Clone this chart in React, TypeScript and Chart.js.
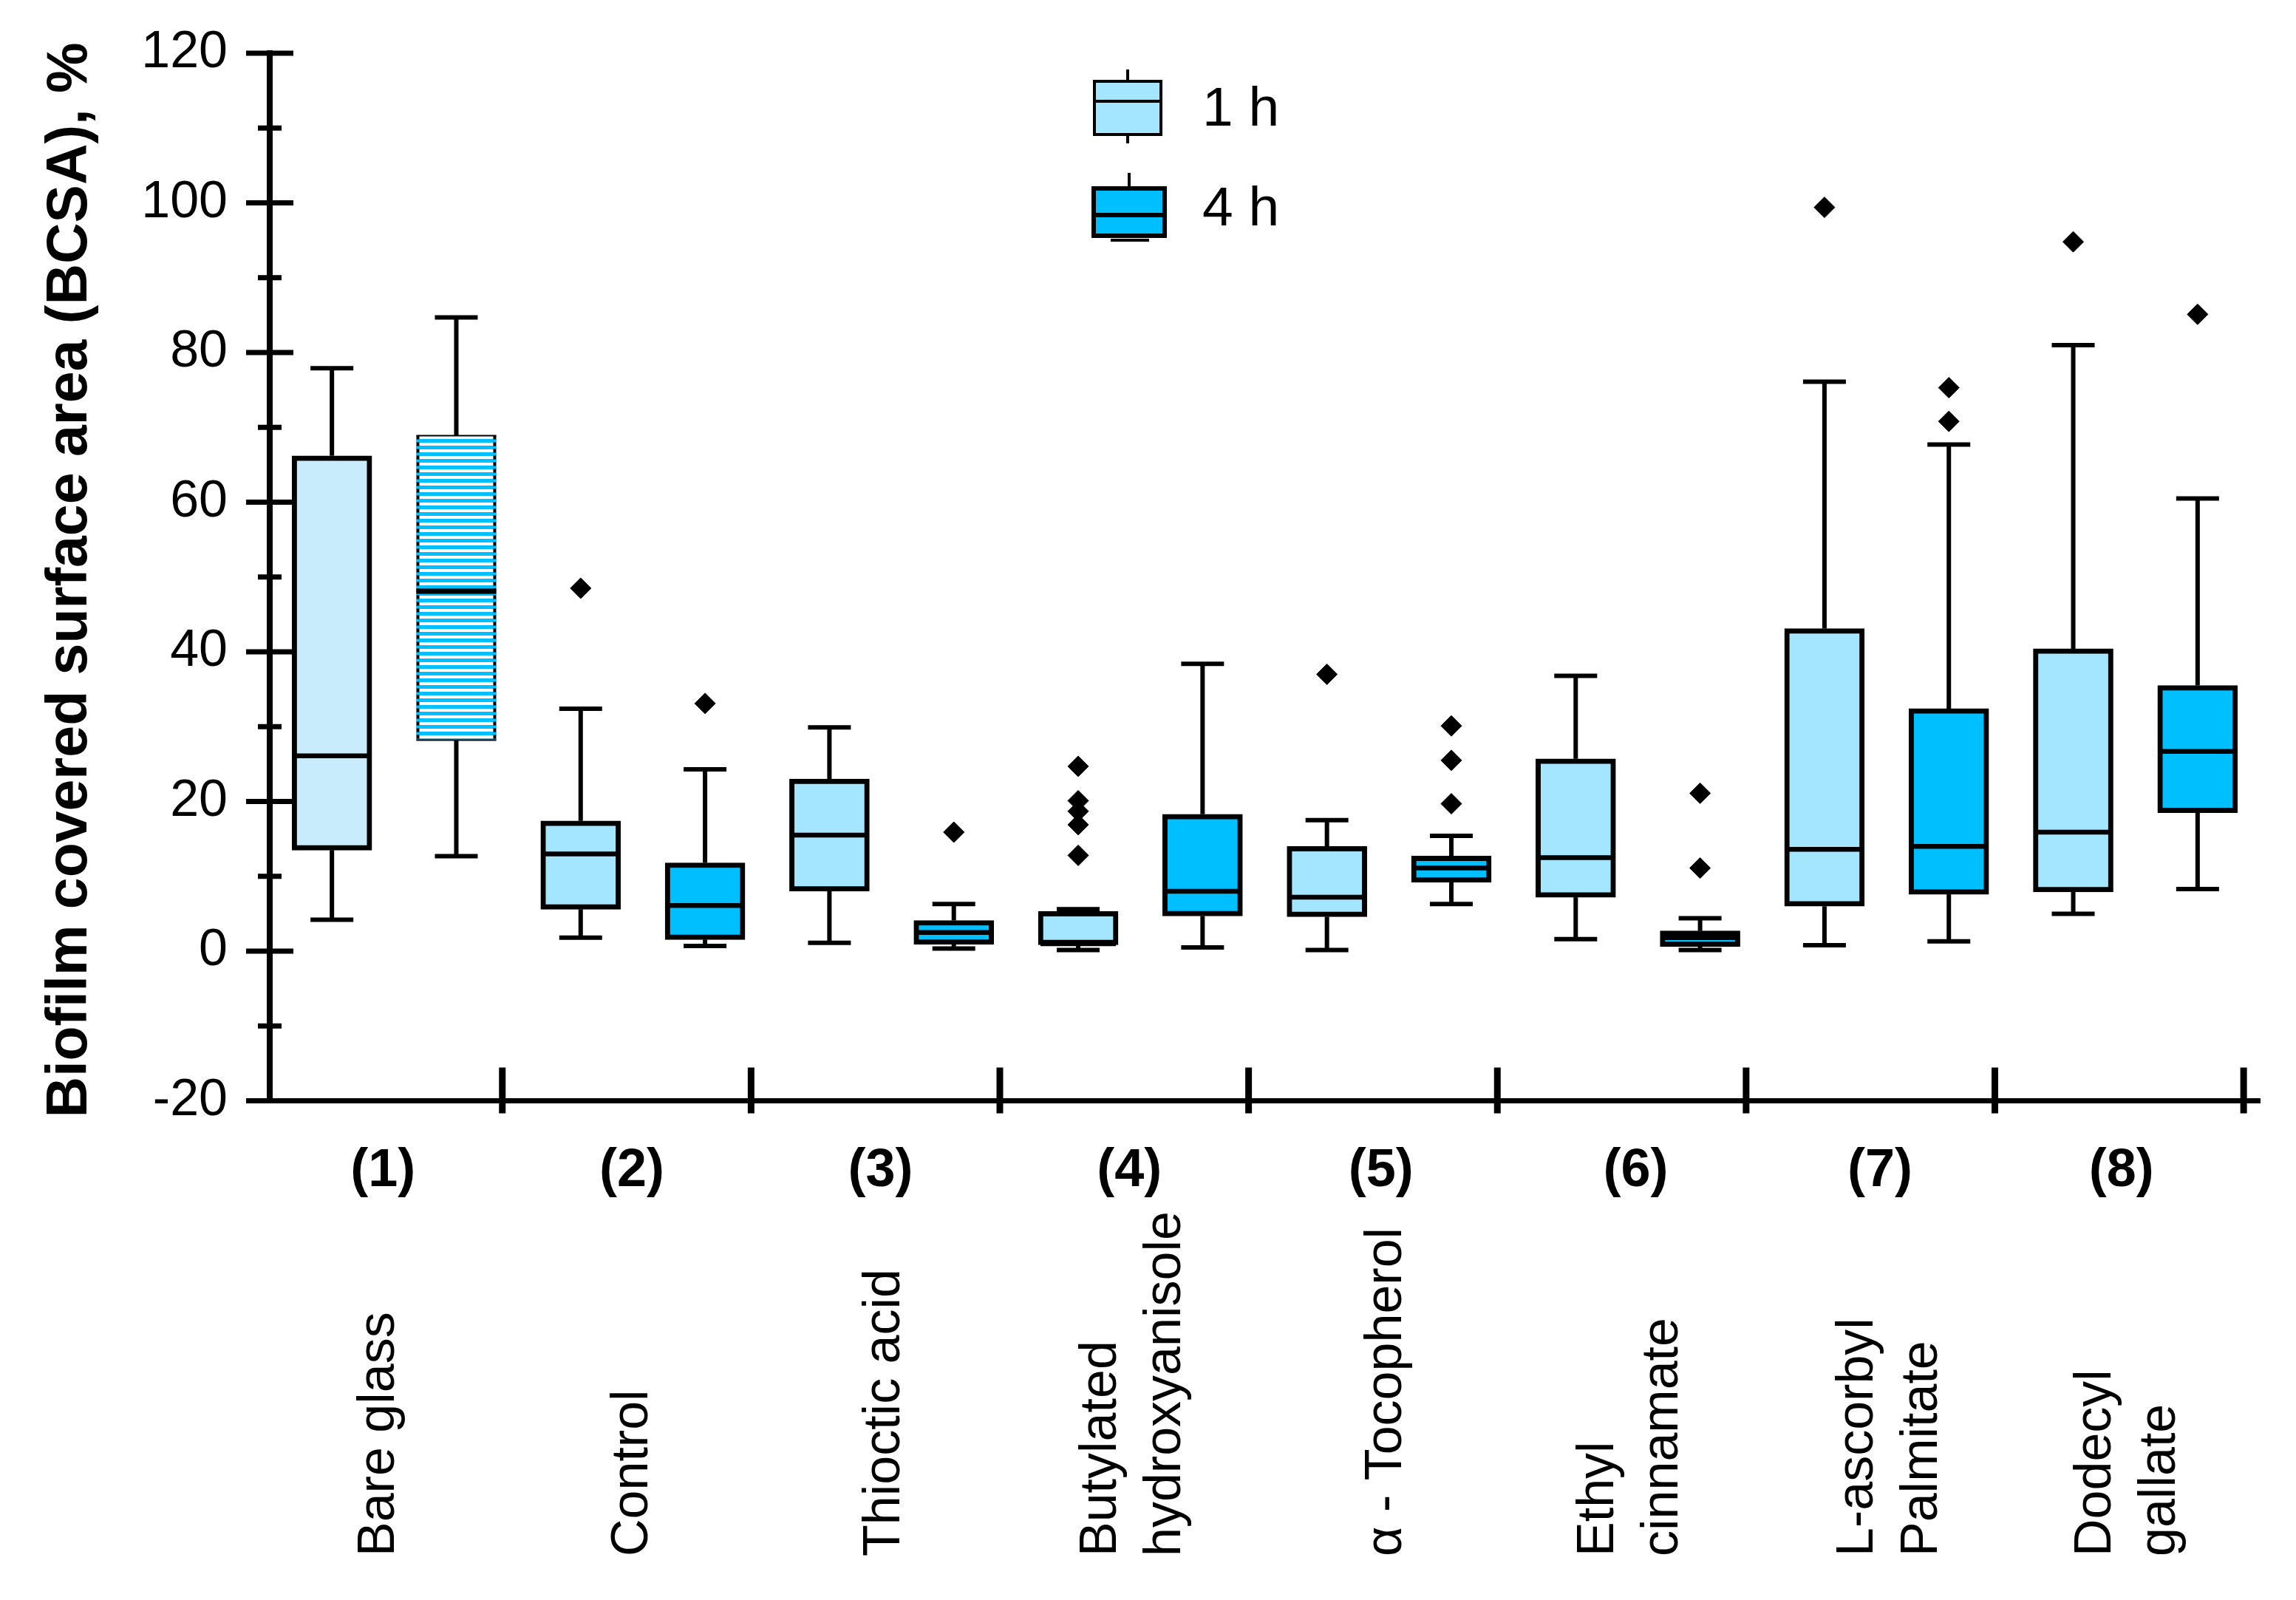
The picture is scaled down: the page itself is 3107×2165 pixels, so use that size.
import React, { useEffect, useRef } from 'react';
import { Chart, registerables } from 'chart.js';

Chart.register(...registerables);

// ---------------- data ----------------
const GROUP_LABELS = ['(1)', '(2)', '(3)', '(4)', '(5)', '(6)', '(7)', '(8)'];
const GROUP_NAMES = [
  ['Bare glass'],
  ['Control'],
  ['Thioctic acid'],
  ['Butylated', 'hydroxyanisole'],
  ['\u03b1 - Tocopherol'],
  ['Ethyl', 'cinnamate'],
  ['L-ascorbyl', 'Palmitate'],
  ['Dodecyl', 'gallate'],
];
const SERIES = ['1 h', '4 h'];

// five-number summaries: [min whisker, Q1, median, Q3, max whisker]
const STATS_1H = [
  [4.2, 13.5, 26.1, 66.2, 77.9],
  [1.8, 5.6, 13.0, 17.4, 32.4],
  [1.1, 8.0, 15.5, 23.0, 29.9],
  [0.15, 0.85, 1.0, 5.3, 5.6],
  [0.15, 4.6, 7.2, 14.0, 17.5],
  [1.6, 7.2, 12.5, 25.7, 36.8],
  [0.8, 6.0, 13.6, 43.1, 76.1],
  [5.0, 7.9, 15.9, 40.4, 81.0],
];
const STATS_4H = [
  [12.7, 28.2, 48.1, 68.9, 84.7],
  [0.7, 1.55, 6.1, 11.8, 24.3],
  [0.35, 0.9, 2.5, 4.1, 6.3],
  [0.5, 4.7, 8.0, 18.3, 38.4],
  [6.3, 9.2, 11.1, 12.7, 15.4],
  [0.15, 0.6, 1.8, 2.7, 4.4],
  [1.3, 7.6, 14.0, 32.4, 67.7],
  [8.3, 18.5, 26.7, 35.5, 60.5],
];
const OUTLIERS_1H = [[], [48.5], [], [24.7, 20.1, 18.7, 16.9, 12.8], [37.0], [], [99.4], [94.8]];
const OUTLIERS_4H = [[], [33.1], [15.9], [], [30.1, 25.5, 19.7], [21.1, 11.1], [75.3, 70.8], [85.1]];

const Y_MIN = -20;
const Y_MAX = 120;
const Y_MAJOR_STEP = 20;
const Y_MINOR_STEP = 10;
const Y_TITLE = 'Biofilm covered surface area (BCSA), %';

// ---------------- styles ----------------
const W = 3107;
const H = 2165;
const FONT = "'Liberation Sans', Arial, Helvetica, sans-serif";
const PALE = 'rgb(200,236,252)';
const LIGHT = 'rgb(164,229,255)';
const DEEP = 'rgb(0,191,255)';
const BOX_W = 108;
const CAP_W = 58;
const HATCH_INDEX = 0; // 4 h box of group (1) is drawn hatched
const SEP_OFFSET = 1.37; // group separator tick position relative to group start
const LABEL_SHIFT = -15;
const NAME_SHIFT = [-10, -4, 0, 0, 6, 0, 14, 0];
const NUM_SHIFT = [0, 0, 0, 0, 4, 12, 6, -4];

function boxPos(g: number, s: number) {
  return 2 * g + s;
}

export default function App() {
  const ref = useRef<HTMLCanvasElement | null>(null);

  useEffect(() => {
    document.body.style.margin = '0';
    document.body.style.overflow = 'hidden';
    const canvas = ref.current;
    if (!canvas) return;
    const ctx0 = canvas.getContext('2d')!;

    const pc = document.createElement('canvas');
    pc.width = 4;
    pc.height = 9;
    const pctx = pc.getContext('2d')!;
    pctx.fillStyle = '#ffffff';
    pctx.fillRect(0, 0, 4, 9);
    pctx.fillStyle = DEEP;
    pctx.fillRect(0, 0, 4, 5);
    const hatch = ctx0.createPattern(pc, 'repeat');

    const allStats = [STATS_1H, STATS_4H];

    const boxPlugin = {
      id: 'boxExtras',
      afterDatasetsDraw(chart: any) {
        const { ctx } = chart;
        const xs = chart.scales.x;
        const ys = chart.scales.y;
        ctx.save();
        ctx.strokeStyle = '#000';
        ctx.lineCap = 'butt';
        const line = (x1: number, y1: number, x2: number, y2: number, lw: number) => {
          ctx.lineWidth = lw;
          ctx.beginPath();
          ctx.moveTo(x1, y1);
          ctx.lineTo(x2, y2);
          ctx.stroke();
        };
        allStats.forEach((stats, s) => {
          stats.forEach((st, g) => {
            const cx = xs.getPixelForValue(boxPos(g, s));
            const yMin = ys.getPixelForValue(st[0]);
            const yQ1 = ys.getPixelForValue(st[1]);
            const yMed = ys.getPixelForValue(st[2]);
            const yQ3 = ys.getPixelForValue(st[3]);
            const yMax = ys.getPixelForValue(st[4]);
            line(cx, yQ3, cx, yMax, 6);
            line(cx, yQ1, cx, yMin, 6);
            line(cx - CAP_W / 2, yMax, cx + CAP_W / 2, yMax, 6);
            line(cx - CAP_W / 2, yMin, cx + CAP_W / 2, yMin, 6);
            const hatched = s === 1 && g === HATCH_INDEX;
            if (hatched) {
              line(cx - BOX_W / 2, yQ3, cx + BOX_W / 2, yQ3, 2);
              line(cx - BOX_W / 2, yQ1, cx + BOX_W / 2, yQ1, 2);
              ctx.setLineDash([5, 4]);
              line(cx - BOX_W / 2 + 2, yQ3, cx - BOX_W / 2 + 2, yQ1, 4);
              line(cx + BOX_W / 2 - 2, yQ3, cx + BOX_W / 2 - 2, yQ1, 4);
              ctx.setLineDash([]);
              line(cx - BOX_W / 2, yMed, cx + BOX_W / 2, yMed, 7);
            } else {
              line(cx - BOX_W / 2 + 3, yMed, cx + BOX_W / 2 - 3, yMed, 6.5);
            }
          });
        });
        ctx.restore();
      },
      afterDraw(chart: any) {
        const { ctx, chartArea } = chart;
        const xs = chart.scales.x;
        const ys = chart.scales.y;
        ctx.save();
        ctx.strokeStyle = '#000';
        ctx.fillStyle = '#000';
        const ax = chartArea.left;
        for (let v = Y_MIN; v <= Y_MAX; v += Y_MINOR_STEP) {
          const y = ys.getPixelForValue(v);
          const half = v % Y_MAJOR_STEP === 0 ? 32 : 16;
          ctx.lineWidth = 7;
          ctx.beginPath();
          ctx.moveTo(ax - half, y);
          ctx.lineTo(ax + half, y);
          ctx.stroke();
        }
        const by = chartArea.bottom;
        GROUP_LABELS.forEach((_, g) => {
          const px = xs.getPixelForValue(2 * g + SEP_OFFSET);
          ctx.lineWidth = 9;
          ctx.beginPath();
          ctx.moveTo(px, by - 45);
          ctx.lineTo(px, by + 17);
          ctx.stroke();
        });
        GROUP_LABELS.forEach((lab, g) => {
          const c = (xs.getPixelForValue(boxPos(g, 0)) + xs.getPixelForValue(boxPos(g, 1))) / 2 + LABEL_SHIFT;
          ctx.font = `bold 72px ${FONT}`;
          ctx.textAlign = 'center';
          ctx.textBaseline = 'alphabetic';
          ctx.fillText(lab, c + NUM_SHIFT[g], 1605);
          const lines = GROUP_NAMES[g];
          const lh = 87;
          const x0 = c + NAME_SHIFT[g] - (lh * (lines.length - 1) - 50) / 2;
          ctx.font = `70px ${FONT}`;
          ctx.textAlign = 'left';
          lines.forEach((t, i) => {
            ctx.save();
            ctx.translate(x0 + i * lh, 2106);
            ctx.rotate(-Math.PI / 2);
            ctx.fillText(t, 0, 0);
            ctx.restore();
          });
        });
        ctx.save();
        ctx.font = `bold 77px ${FONT}`;
        ctx.textAlign = 'center';
        ctx.textBaseline = 'alphabetic';
        ctx.translate(117, 785);
        ctx.rotate(-Math.PI / 2);
        ctx.fillText(Y_TITLE, 0, 0);
        ctx.restore();
        const lg = (x: number, y: number, w: number, h: number, med: number, fill: string, lw: number) => {
          ctx.fillStyle = fill;
          ctx.fillRect(x, y, w, h);
          ctx.lineWidth = lw;
          ctx.strokeStyle = '#000';
          ctx.strokeRect(x + lw / 2, y + lw / 2, w - lw, h - lw);
          ctx.beginPath();
          ctx.moveTo(x, med);
          ctx.lineTo(x + w, med);
          ctx.stroke();
        };
        lg(1479, 108, 94, 76, 137, LIGHT, 4);
        ctx.lineWidth = 4;
        ctx.beginPath();
        ctx.moveTo(1526, 94);
        ctx.lineTo(1526, 108);
        ctx.moveTo(1526, 184);
        ctx.lineTo(1526, 194);
        ctx.stroke();
        lg(1477, 252, 102, 70, 291, DEEP, 6);
        ctx.lineWidth = 4;
        ctx.beginPath();
        ctx.moveTo(1528, 234);
        ctx.lineTo(1528, 252);
        ctx.moveTo(1503, 325);
        ctx.lineTo(1555, 325);
        ctx.stroke();
        ctx.fillStyle = '#000';
        ctx.font = `75px ${FONT}`;
        ctx.textAlign = 'left';
        ctx.textBaseline = 'alphabetic';
        ctx.fillText(SERIES[0], 1627, 170);
        ctx.fillText(SERIES[1], 1627, 305);
        ctx.restore();
      },
    };

    const outlierPoints = (outs: number[][], s: number) =>
      outs.flatMap((arr, g) => arr.map((v) => ({ x: boxPos(g, s), y: v })));

    const chart = new Chart(canvas, {
      type: 'bar',
      data: {
        datasets: [
          {
            type: 'bar',
            label: SERIES[0],
            data: STATS_1H.map((st, g) => ({ x: boxPos(g, 0), y: [st[1], st[3]] })) as any,
            backgroundColor: STATS_1H.map((_, g) => (g === 0 ? PALE : LIGHT)),
            borderColor: '#000',
            borderWidth: 7,
            borderSkipped: false,
            barThickness: BOX_W,
            grouped: false,
          } as any,
          {
            type: 'bar',
            label: SERIES[1],
            data: STATS_4H.map((st, g) => ({ x: boxPos(g, 1), y: [st[1], st[3]] })) as any,
            backgroundColor: STATS_4H.map((_, g) => (g === HATCH_INDEX ? hatch : DEEP)),
            borderColor: '#000',
            borderWidth: (c: any) => (c.dataIndex === HATCH_INDEX ? 0 : 7),
            borderSkipped: false,
            barThickness: BOX_W,
            grouped: false,
          } as any,
          {
            type: 'scatter',
            label: SERIES[0] + ' outliers',
            data: outlierPoints(OUTLIERS_1H, 0),
            pointStyle: 'rectRot',
            pointRadius: 14,
            backgroundColor: '#000',
            borderColor: '#000',
            borderWidth: 1,
          } as any,
          {
            type: 'scatter',
            label: SERIES[1] + ' outliers',
            data: outlierPoints(OUTLIERS_4H, 1),
            pointStyle: 'rectRot',
            pointRadius: 14,
            backgroundColor: '#000',
            borderColor: '#000',
            borderWidth: 1,
          } as any,
        ],
      },
      options: {
        animation: false,
        responsive: true,
        maintainAspectRatio: false,
        devicePixelRatio: 1,
        layout: { padding: { top: 72, right: 49, bottom: 0, left: 0 } },
        plugins: { legend: { display: false }, tooltip: { enabled: false } },
        scales: {
          x: {
            type: 'linear',
            min: -0.5,
            max: 15.5,
            offset: false,
            grid: { display: false, drawTicks: false, offset: false },
            border: { display: true, color: '#000', width: 7 },
            ticks: { display: false },
            afterFit: (sc: any) => {
              sc.height = H - 1489.5;
              sc.paddingLeft = 0;
              sc.paddingRight = 0;
            },
          } as any,
          y: {
            type: 'linear',
            min: Y_MIN,
            max: Y_MAX,
            grid: { display: false, drawTicks: false },
            border: { display: true, color: '#000', width: 8 },
            ticks: {
              stepSize: Y_MAJOR_STEP,
              color: '#000',
              padding: 57,
              font: { family: FONT, size: 70 },
            },
            afterFit: (sc: any) => {
              sc.width = 365;
              sc.paddingTop = 0;
              sc.paddingBottom = 0;
            },
          } as any,
        },
      },
      plugins: [boxPlugin],
    });

    return () => chart.destroy();
  }, []);

  return (
    <div style={{ width: W, height: H, position: 'relative', background: '#fff' }}>
      <canvas ref={ref} />
    </div>
  );
}
